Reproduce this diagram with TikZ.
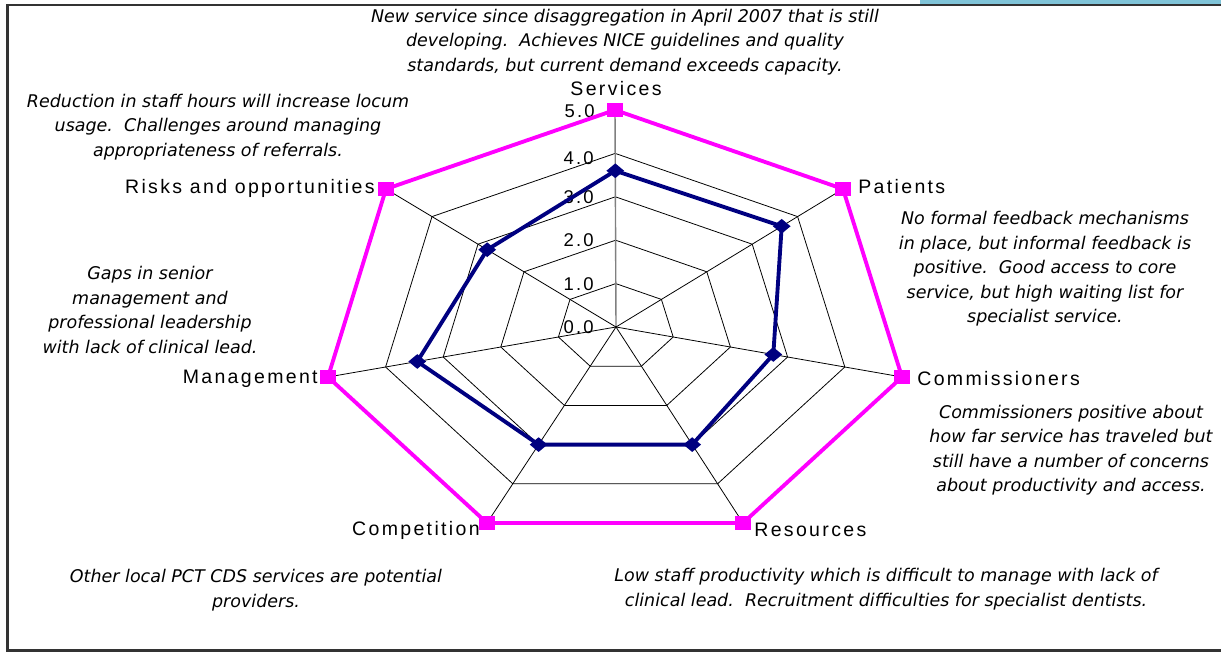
\documentclass[tikz,border=0pt]{standalone}
\usepackage{fontspec}
\setmainfont{Liberation Sans}
\newfontfamily\axisfont[LetterSpace=12]{Liberation Sans}
\newfontfamily\notefont{DejaVu Sans}
\usepackage{tikz}
\usetikzlibrary{calc}
\usetikzlibrary{shapes.geometric}
\definecolor{chartmagenta}{RGB}{255,0,255}
\definecolor{chartnavy}{RGB}{0,0,128}
\definecolor{barblue}{RGB}{128,196,216}

\tikzset{
  axislabel/.style={font=\axisfont\fontsize{11.1}{12}\selectfont, inner sep=0pt},
  ticklabel/.style={font=\axisfont\fontsize{10.5}{12}\selectfont, inner sep=0pt, anchor=east},
  comment/.style={font=\notefont\itshape\fontsize{9.95}{13.9}\selectfont, align=center, inner sep=0pt},
  gridline/.style={black, line width=0.45pt},
  outermark/.style={rectangle, fill=chartmagenta, minimum width=0.32cm, minimum height=0.29cm, inner sep=0pt},
  valuemark/.style={diamond, fill=chartnavy, minimum width=0.36cm, minimum height=0.3cm, inner sep=0pt},
}

\begin{document}
\begin{tikzpicture}[x=0.02cm, y=-0.02cm]
  \useasboundingbox (0,0) rectangle (1221,652);

  % slide frame
  \fill[barblue] (920,0) rectangle (1221,4);
  \draw[black!80, line width=1.2pt] (1221,5) -- (7.5,5) -- (7.5,650.5) -- (1221,650.5);

  % axes of the radar (value 5.0)
  \coordinate (O)  at (616,327);
  \coordinate (Sv) at (615,110);
  \coordinate (Pa) at (843,189);
  \coordinate (Co) at (902,377);
  \coordinate (Re) at (743,523);
  \coordinate (Cm) at (487,523);
  \coordinate (Mg) at (328,377);
  \coordinate (Ri) at (386,189);

  % rings 1.0 - 4.0
  \draw[gridline] ($(O)!0.2!(Sv)$) -- ($(O)!0.2!(Pa)$) -- ($(O)!0.2!(Co)$) -- ($(O)!0.2!(Re)$) -- ($(O)!0.2!(Cm)$) -- ($(O)!0.2!(Mg)$) -- ($(O)!0.2!(Ri)$) -- cycle;
  \draw[gridline] ($(O)!0.4!(Sv)$) -- ($(O)!0.4!(Pa)$) -- ($(O)!0.4!(Co)$) -- ($(O)!0.4!(Re)$) -- ($(O)!0.4!(Cm)$) -- ($(O)!0.4!(Mg)$) -- ($(O)!0.4!(Ri)$) -- cycle;
  \draw[gridline] ($(O)!0.6!(Sv)$) -- ($(O)!0.6!(Pa)$) -- ($(O)!0.6!(Co)$) -- ($(O)!0.6!(Re)$) -- ($(O)!0.6!(Cm)$) -- ($(O)!0.6!(Mg)$) -- ($(O)!0.6!(Ri)$) -- cycle;
  \draw[gridline] ($(O)!0.8!(Sv)$) -- ($(O)!0.8!(Pa)$) -- ($(O)!0.8!(Co)$) -- ($(O)!0.8!(Re)$) -- ($(O)!0.8!(Cm)$) -- ($(O)!0.8!(Mg)$) -- ($(O)!0.8!(Ri)$) -- cycle;

  % spokes
  \draw[gray, line width=0.8pt] (O) -- (Sv);
  \draw[gridline] (O) -- (Pa);
  \draw[gridline] (O) -- (Co);
  \draw[gridline] (O) -- (Re);
  \draw[gridline] (O) -- (Cm);
  \draw[gridline] (O) -- (Mg);
  \draw[gridline] (O) -- (Ri);

  % scale
  \node[ticklabel] (t5) at (595,111) {5.0};
  \node[ticklabel] (t4) at (594,158) {4.0};
  \node[ticklabel] (t3) at (594,197) {3.0};
  \node[ticklabel] (t2) at (594,240) {2.0};
  \node[ticklabel] (t1) at (594,284) {1.0};
  \node[ticklabel] (t0) at (594,327) {0.0};

  % target (5.0) and score
  \draw[chartmagenta, line width=2.2pt, line join=round] (Sv) -- (Pa) -- (Co) -- (Re) -- (Cm) -- (Mg) -- (Ri) -- cycle;
  \draw[chartnavy, line width=2.2pt, line join=round] ($(O)!0.72!(Sv)$) -- ($(O)!0.73!(Pa)$) -- ($(O)!0.55!(Co)$) -- ($(O)!0.6!(Re)$) -- ($(O)!0.6!(Cm)$) -- ($(O)!0.69!(Mg)$) -- ($(O)!0.56!(Ri)$) -- cycle;

  \node[outermark] (mSv) at (Sv) {};
  \node[outermark] (mPa) at (Pa) {};
  \node[outermark] (mCo) at (Co) {};
  \node[outermark] (mRe) at (Re) {};
  \node[outermark] (mCm) at (Cm) {};
  \node[outermark] (mMg) at (Mg) {};
  \node[outermark] (mRi) at (Ri) {};

  \node[valuemark] (vSv) at ($(O)!0.72!(Sv)$) {};
  \node[valuemark] (vPa) at ($(O)!0.73!(Pa)$) {};
  \node[valuemark] (vCo) at ($(O)!0.55!(Co)$) {};
  \node[valuemark] (vRe) at ($(O)!0.6!(Re)$) {};
  \node[valuemark] (vCm) at ($(O)!0.6!(Cm)$) {};
  \node[valuemark] (vMg) at ($(O)!0.69!(Mg)$) {};
  \node[valuemark] (vRi) at ($(O)!0.56!(Ri)$) {};

  % axis names
  \node[axislabel]             (lSv) at (616,89)  {Services};
  \node[axislabel, anchor=west] (lPa) at (858,187) {Patients};
  \node[axislabel, anchor=west] (lCo) at (917,379) {Commissioners};
  \node[axislabel, anchor=west] (lRe) at (754,530) {Resources};
  \node[axislabel, anchor=east] (lCm) at (480,530) {Competition};
  \node[axislabel, anchor=east] (lMg) at (318,379) {Management};
  \node[axislabel, anchor=east] (lRi) at (375,188) {Risks and opportunities};

  % comments
  \node[comment] (cSv) at (625,42) {New service since disaggregation in April 2007 that is still\\developing.\ \ Achieves NICE guidelines and quality\\standards, but current demand exceeds capacity.};
  \node[comment] (cRi) at (218,127) {Reduction in staff hours will increase locum\\usage.\ \ Challenges around managing\\appropriateness of referrals.};
  \node[comment] (cMg) at (150,310) {Gaps in senior\\management and\\professional leadership\\with lack of clinical lead.};
  \node[comment] (cPa) at (1045,269) {No formal feedback mechanisms\\in place, but informal feedback is\\positive.\ \ Good access to core\\service, but high waiting list for\\specialist service.};
  \node[comment] (cCo) at (1071,450) {Commissioners positive about\\how far service has traveled but\\still have a number of concerns\\about productivity and access.};
  \node[comment] (cCm) at (256,590) {Other local PCT CDS services are potential\\providers.};
  \node[comment] (cRe) at (886,589) {Low staff productivity which is difficult to manage with lack of\\clinical lead.\ \ Recruitment difficulties for specialist dentists.};
\end{tikzpicture}
\end{document}
